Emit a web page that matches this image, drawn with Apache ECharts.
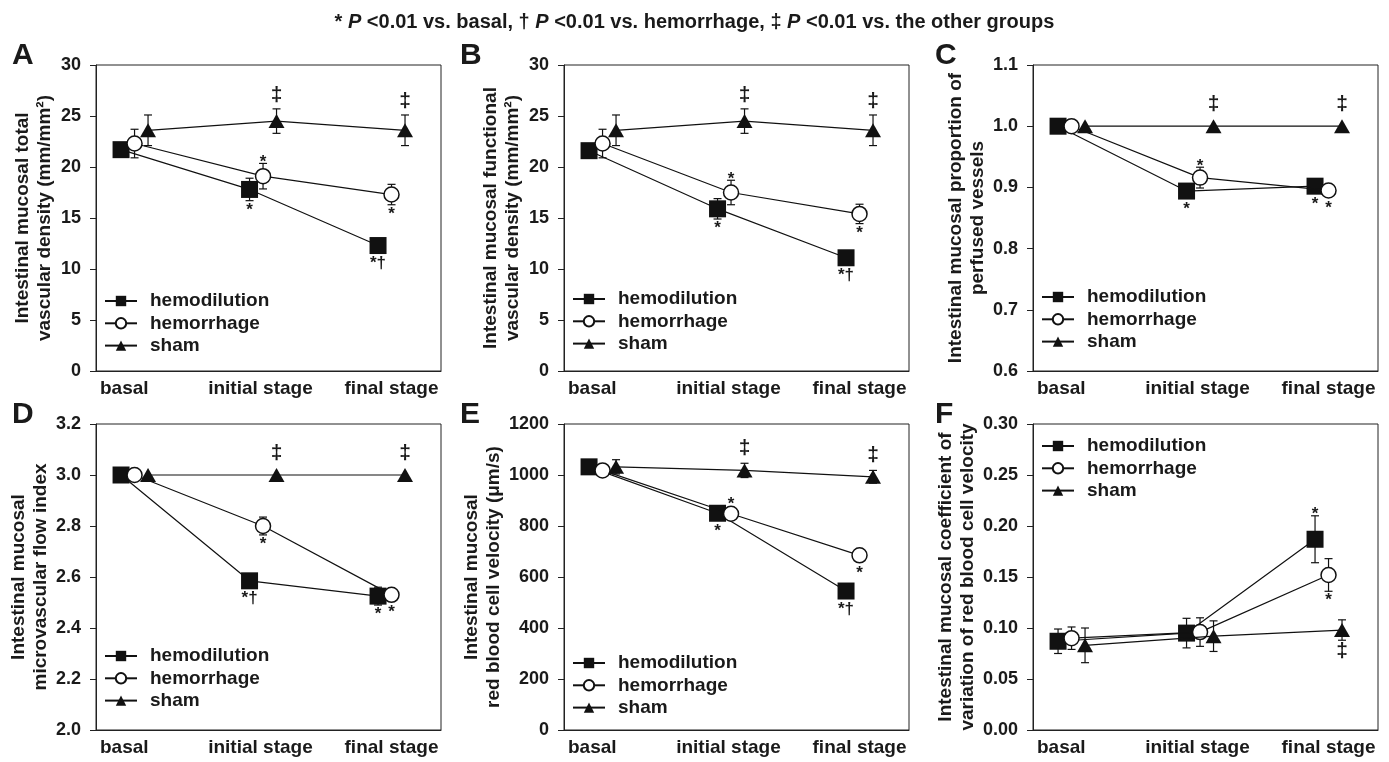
<!DOCTYPE html>
<html><head><meta charset="utf-8">
<script src="https://cdn.jsdelivr.net/npm/echarts@6/dist/echarts.min.js"></script>
<style>html,body{margin:0;padding:0;background:#fff}#c{width:1389px;height:762px}</style>
</head><body><div id="c"></div>
<script>
// ---------- data ----------
const stages = ['basal', 'initial stage', 'final stage'];
const groups = ['hemodilution', 'hemorrhage', 'sham'];

// Panel A: total vascular density (mm/mm2)
const aHemodilution = [21.7, 17.8, 12.3];
const aHemodilutionErr = [0.5, 1.1, 0.5];
const aHemorrhage = [22.3, 19.1, 17.3];
const aHemorrhageErr = [1.4, 1.25, 1.0];
const aSham = [23.6, 24.5, 23.6];
const aShamErr = [1.5, 1.2, 1.5];
const aNotes = [['sham',1,'‡','above'],['sham',2,'‡','above'],['hemorrhage',1,'*','above'],['hemodilution',1,'*','below'],['hemorrhage',2,'*','below'],['hemodilution',2,'*†','below']];

// Panel B: functional vascular density (mm/mm2)
const bHemodilution = [21.6, 15.9, 11.1];
const bHemodilutionErr = [0.5, 1.0, 0.5];
const bHemorrhage = [22.3, 17.5, 15.4];
const bHemorrhageErr = [1.4, 1.2, 0.95];
const bSham = [23.6, 24.5, 23.6];
const bShamErr = [1.5, 1.2, 1.5];
const bNotes = [['sham',1,'‡','above'],['sham',2,'‡','above'],['hemorrhage',1,'*','above'],['hemodilution',1,'*','below'],['hemorrhage',2,'*','below'],['hemodilution',2,'*†','below']];

// Panel C: proportion of perfused vessels
const cHemodilution = [1.0, 0.894, 0.902];
const cHemodilutionErr = [0.003, 0.01, 0.008];
const cHemorrhage = [1.0, 0.916, 0.895];
const cHemorrhageErr = [0.002, 0.017, 0.006];
const cSham = [1.0, 1.0, 1.0];
const cShamErr = [0, 0, 0];
const cNotes = [['sham',1,'‡','above'],['sham',2,'‡','above'],['hemorrhage',1,'*','above'],['hemodilution',1,'*','below'],['hemodilution',2,'*','below'],['hemorrhage',2,'*','below']];

// Panel D: microvascular flow index
const dHemodilution = [3.0, 2.585, 2.525];
const dHemodilutionErr = [0.005, 0.02, 0.035];
const dHemorrhage = [3.0, 2.80, 2.53];
const dHemorrhageErr = [0.005, 0.035, 0.01];
const dSham = [3.0, 3.0, 3.0];
const dShamErr = [0, 0, 0];
const dNotes = [['sham',1,'‡','above'],['sham',2,'‡','above'],['hemorrhage',1,'*','below'],['hemodilution',1,'*†','below'],['hemodilution',2,'*','below'],['hemorrhage',2,'*','below']];

// Panel E: red blood cell velocity (um/s)
const eHemodilution = [1032, 850, 545];
const eHemodilutionErr = [20, 20, 20];
const eHemorrhage = [1018, 848, 685];
const eHemorrhageErr = [15, 20, 15];
const eSham = [1032, 1018, 993];
const eShamErr = [28, 28, 25];
const eNotes = [['sham',1,'‡','above'],['sham',2,'‡','above'],['hemorrhage',1,'*','above'],['hemodilution',1,'*','below'],['hemorrhage',2,'*','below'],['hemodilution',2,'*†','below']];

// Panel F: coefficient of variation of RBC velocity
const fHemodilution = [0.087, 0.095, 0.187];
const fHemodilutionErr = [0.012, 0.0145, 0.023];
const fHemorrhage = [0.090, 0.096, 0.152];
const fHemorrhageErr = [0.011, 0.014, 0.016];
const fSham = [0.083, 0.092, 0.098];
const fShamErr = [0.017, 0.015, 0.010];
const fNotes = [['hemodilution',2,'*','above'],['hemorrhage',2,'*','below'],['sham',2,'‡','below']];

// ---------- layout ----------
const FONT = '"Liberation Sans", Arial, sans-serif';
const INK = '#1a1a1a';
const offsets = [-0.105, 0, 0.105];
const panels = [
  {letter:'A', letterLeft:7,   left:96,  top:65,  yMin:0,   yMax:30,   yStep:5,    dec:0, yName:'Intestinal mucosal total\nvascular density (mm/mm²)', means:[aHemodilution,aHemorrhage,aSham], errs:[aHemodilutionErr,aHemorrhageErr,aShamErr], notes:aNotes, legTop:291},
  {letter:'B', letterLeft:455, left:564, top:65,  yMin:0,   yMax:30,   yStep:5,    dec:0, yName:'Intestinal mucosal functional\nvascular density (mm/mm²)', means:[bHemodilution,bHemorrhage,bSham], errs:[bHemodilutionErr,bHemorrhageErr,bShamErr], notes:bNotes, legTop:289},
  {letter:'C', letterLeft:930, left:1033,top:65,  yMin:0.6, yMax:1.1,  yStep:0.1,  dec:1, yName:'Intestinal mucosal proportion of\nperfused vessels', means:[cHemodilution,cHemorrhage,cSham], errs:[cHemodilutionErr,cHemorrhageErr,cShamErr], notes:cNotes, legTop:287},
  {letter:'D', letterLeft:7,   left:96,  top:424, yMin:2.0, yMax:3.2,  yStep:0.2,  dec:1, yName:'Intestinal mucosal\nmicrovascular flow index', means:[dHemodilution,dHemorrhage,dSham], errs:[dHemodilutionErr,dHemorrhageErr,dShamErr], notes:dNotes, legTop:646},
  {letter:'E', letterLeft:455, left:564, top:424, yMin:0,   yMax:1200, yStep:200,  dec:0, yName:'Intestinal mucosal\nred blood cell velocity (μm/s)', means:[eHemodilution,eHemorrhage,eSham], errs:[eHemodilutionErr,eHemorrhageErr,eShamErr], notes:eNotes, legTop:653},
  {letter:'F', letterLeft:930, left:1033,top:424, yMin:0,   yMax:0.30, yStep:0.05, dec:2, yName:'Intestinal mucosal coefficient of\nvariation of red blood cell velocity', means:[fHemodilution,fHemorrhage,fSham], errs:[fHemodilutionErr,fHemorrhageErr,fShamErr], notes:fNotes, legTop:436}
];
const GW = 345, GH = 306;
const symbols = [
  {symbol:'rect', size:17, fill:'#111', bw:0},
  {symbol:'circle', size:15, fill:'#fff', bw:1.5},
  {symbol:'triangle', size:[16,14], fill:'#111', bw:0}
];

const grids = [], xAxes = [], yAxes = [], series = [], legends = [];
const titles = [{
  left:'center', top:7,
  text:'{n|* }{i|P}{n| <0.01 vs. basal, † }{i|P}{n| <0.01 vs. hemorrhage, ‡ }{i|P}{n| <0.01 vs. the other groups}',
  textStyle:{rich:{
    n:{fontFamily:FONT, fontWeight:'bold', fontSize:20, color:INK},
    i:{fontFamily:FONT, fontWeight:'bold', fontStyle:'italic', fontSize:20, color:INK}
  }}
}];

panels.forEach((p, k) => {
  grids.push({left:p.left, top:p.top, width:GW, height:GH, show:true, borderColor:'#222', borderWidth:1, backgroundColor:'transparent'});
  xAxes.push({
    gridIndex:k, type:'value', min:-0.3, max:2.385,
    splitLine:{show:false}, axisTick:{show:false},
    axisLine:{onZero:false, lineStyle:{color:'#222', width:1}},
    axisLabel:{customValues:[-0.08, 0.98, 2.0], formatter:v => stages[Math.round(v)], margin:8,
      fontFamily:FONT, fontWeight:'bold', fontSize:19, color:INK}
  });
  yAxes.push({
    gridIndex:k, type:'value', min:p.yMin, max:p.yMax, interval:p.yStep,
    splitLine:{show:false},
    axisLine:{show:true, onZero:false, lineStyle:{color:'#222', width:1}},
    axisTick:{show:true, inside:false, length:6, lineStyle:{color:'#222'}},
    axisLabel:{margin:15, formatter:v => v.toFixed(p.dec), fontFamily:FONT, fontWeight:'bold', fontSize:18, color:INK},
    name:p.yName, nameLocation:'middle', nameGap:40,
    nameTextStyle:{fontFamily:FONT, fontWeight:'bold', fontSize:19, color:INK, lineHeight:22}
  });
  titles.push({text:p.letter, left:p.letterLeft, top:p.top - 29,
    textStyle:{fontFamily:FONT, fontWeight:'bold', fontSize:30, color:INK}});
  legends.push({
    left:p.left + 8, top:p.legTop, orient:'vertical', padding:0, itemGap:2.3,
    itemWidth:32, itemHeight:13, selectedMode:false, data:groups,
    textStyle:{fontFamily:FONT, fontWeight:'bold', fontSize:19, color:INK, lineHeight:20, padding:[0,0,0,8]}
  });
  // error bars
  groups.forEach((g, s) => {
    series.push({
      type:'custom', name:g + ' err', xAxisIndex:k, yAxisIndex:k, z:2, silent:true,
      data:p.means[s].map((v, i) => [i + offsets[s], v, p.errs[s][i]]),
      renderItem:(params, api) => {
        const x = api.value(0), m = api.value(1), e = api.value(2);
        if (!e) return;
        const t = api.coord([x, m + e]), b = api.coord([x, m - e]);
        const st = {stroke:'#111', lineWidth:1.2};
        return {type:'group', children:[
          {type:'line', shape:{x1:t[0], y1:t[1], x2:b[0], y2:b[1]}, style:st},
          {type:'line', shape:{x1:t[0]-4, y1:t[1], x2:t[0]+4, y2:t[1]}, style:st},
          {type:'line', shape:{x1:b[0]-4, y1:b[1], x2:b[0]+4, y2:b[1]}, style:st}
        ]};
      }
    });
  });
  // lines with markers
  groups.forEach((g, s) => {
    const sy = symbols[s];
    series.push({
      type:'line', name:g, xAxisIndex:k, yAxisIndex:k, z:3 + s,
      data:p.means[s].map((v, i) => [i + offsets[s], v]),
      symbol:sy.symbol, symbolSize:sy.size, showAllSymbol:true,
      itemStyle:{color:sy.fill, borderColor:'#111', borderWidth:sy.bw},
      lineStyle:{color:'#111', width:1.2},
      emphasis:{disabled:true}, silent:true
    });
  });
  // significance marks
  series.push({
    type:'custom', name:'notes', xAxisIndex:k, yAxisIndex:k, z:10, silent:true,
    data:p.notes.map(n => { const s = groups.indexOf(n[0]); return [n[1] + offsets[s], p.means[s][n[1]], p.errs[s][n[1]]]; }),
    renderItem:(params, api) => {
      const n = p.notes[params.dataIndex];
      const x = api.value(0), m = api.value(1), e = api.value(2);
      const c = api.coord([x, m]);
      const t = api.coord([x, m + e]), b = api.coord([x, m - e]);
      const fs = n[2] === '‡' ? 21 : 17, half = 8.5;
      let base;
      if (n[3] === 'above') {
        const top = Math.min(t[1], c[1] - half);
        base = top - 2 + (n[2] === '*' ? 0.39 * fs : -0.2 * fs);
      } else {
        const bot = Math.max(b[1], c[1] + half);
        base = bot + 3 + 0.72 * fs;
      }
      return {type:'text', style:{text:n[2], x:c[0], y:base - 0.35 * fs, align:'center', verticalAlign:'middle',
        fontFamily:FONT, fontWeight:'bold', fontSize:fs, fill:INK}};
    }
  });
});

const chart = echarts.init(document.getElementById('c'), null, {renderer:'canvas'});
chart.setOption({
  animation:false, backgroundColor:'#fff',
  title:titles, grid:grids, xAxis:xAxes, yAxis:yAxes, legend:legends, series:series
});
</script></body></html>
